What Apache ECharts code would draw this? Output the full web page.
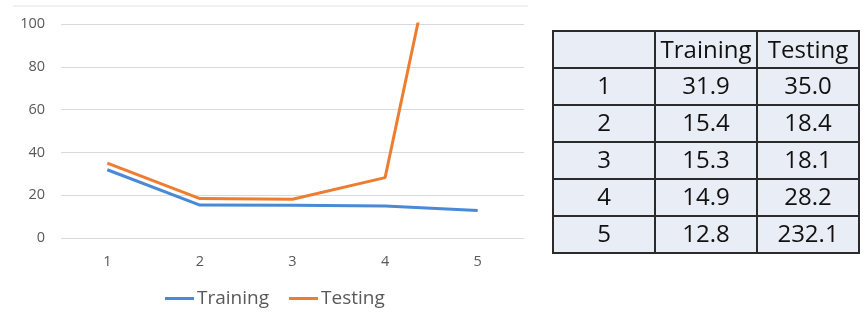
<!DOCTYPE html>
<html><head><meta charset="utf-8">
<script src="https://cdn.jsdelivr.net/npm/echarts@6/dist/echarts.min.js"></script>
<style>html,body{margin:0;padding:0;background:#fff;}#c{width:865px;height:315px;}</style>
</head><body><div id="c"></div>
<script>
const categories = ['1','2','3','4','5'];
const training = [31.9, 15.4, 15.3, 14.9, 12.8];
const testing = [35.0, 18.4, 18.1, 28.2, 232.1];
const tableHeader = ['', 'Training', 'Testing'];
const trainingLabels = ['31.9','15.4','15.3','14.9','12.8'];
const testingLabels = ['35.0','18.4','18.1','28.2','232.1'];

const chart = echarts.init(document.getElementById('c'));
const font = '"Open Sans", "Noto Sans", sans-serif';

// table graphic
const tx = 553, ty = 31, colW = [102, 102, 102], headH = 37, rowH = 37;
const g = [];
const totalW = colW.reduce((a,b)=>a+b,0);
const totalH = headH + rowH * categories.length;
g.push({type:'rect', shape:{x:tx,y:ty,width:totalW,height:totalH}, style:{fill:'#e9edf5', stroke:'#2b2b2b', lineWidth:2}, z:10});
let cx = tx;
for (let c = 0; c < colW.length - 1; c++) {
  cx += colW[c];
  g.push({type:'line', shape:{x1:cx,y1:ty,x2:cx,y2:ty+totalH}, style:{stroke:'#2b2b2b', lineWidth:2}, z:11});
}
for (let r = 0; r < categories.length; r++) {
  const y = ty + headH + r * rowH;
  g.push({type:'line', shape:{x1:tx,y1:y,x2:tx+totalW,y2:y}, style:{stroke:'#2b2b2b', lineWidth:2}, z:11});
}
function cellText(text, col, yc) {
  let x0 = tx; for (let i = 0; i < col; i++) x0 += colW[i];
  g.push({type:'text', x: x0 + colW[col]/2, y: yc, style:{text:text, fill:'#111', font:'24px ' + font, align:'center', verticalAlign:'middle'}, z:12});
}
tableHeader.forEach((h, i) => { if (h) cellText(h, i, ty + headH/2 + 2); });
categories.forEach((c, r) => {
  const yc = ty + headH + r*rowH + rowH/2 + 1;
  cellText(c, 0, yc);
  cellText(trainingLabels[r], 1, yc);
  cellText(testingLabels[r], 2, yc);
});
// chart area top border
g.push({type:'line', shape:{x1:13,y1:6,x2:528,y2:6}, style:{stroke:'#e3e3e3', lineWidth:1}});

chart.setOption({
  animation: false,
  grid: {left: 61, right: 865-524, top: 24, bottom: 315-238},
  legend: {
    data: ['Training','Testing'], bottom: 2, left: 160,
    icon: 'rect', itemWidth: 29, itemHeight: 3, itemGap: 20,
    textStyle: {fontSize: 19, color: '#595959', fontFamily: font, padding: [0,0,0,-2]}
  },
  xAxis: {
    type: 'category', data: categories, boundaryGap: true,
    axisLine: {show: false}, axisTick: {show: false},
    axisLabel: {color: '#595959', fontSize: 14.5, margin: 16, fontFamily: font}
  },
  yAxis: {
    type: 'value', min: 0, max: 100, interval: 20,
    axisLine: {show: false}, axisTick: {show: false},
    axisLabel: {color: '#595959', fontSize: 14.5, margin: 16, fontFamily: font},
    splitLine: {lineStyle: {color: '#d9d9d9', width: 1}}
  },
  series: [
    {name: 'Training', type: 'line', data: training, symbol: 'none', lineStyle: {color: '#4a8ad4', width: 3}, itemStyle: {color: '#4a8ad4'}},
    {name: 'Testing', type: 'line', data: testing, symbol: 'none', lineStyle: {color: '#ed7d31', width: 3}, itemStyle: {color: '#ed7d31'}}
  ],
  graphic: g
});
</script></body></html>
